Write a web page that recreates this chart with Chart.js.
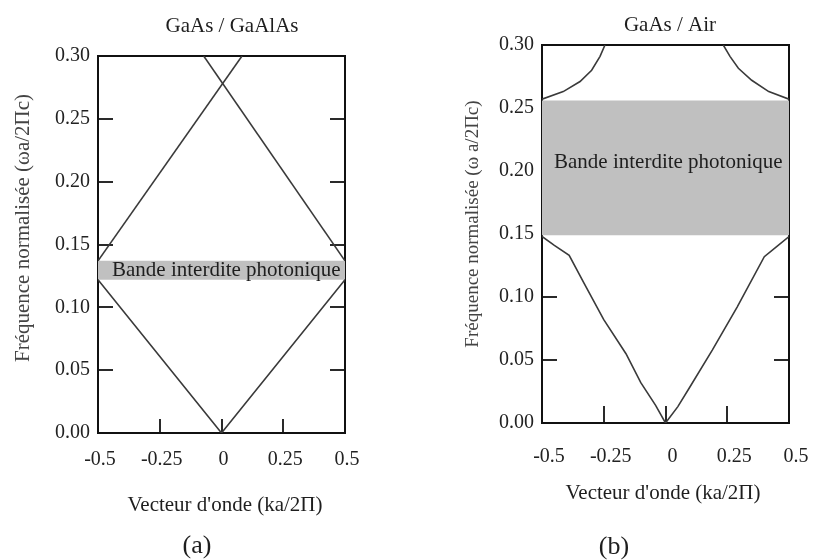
<!DOCTYPE html>
<html lang="fr">
<head>
<meta charset="utf-8">
<title>Diagramme de bandes GaAs</title>
<script src="https://cdn.jsdelivr.net/npm/chart.js@4.4.1/dist/chart.umd.min.js"></script>
<style>
  html, body { margin: 0; padding: 0; background: #fff; }
  #wrap { position: relative; width: 820px; height: 560px; }
  .panel { position: absolute; top: 0; width: 410px; height: 560px; }
  #panelA { left: 0; }
  #panelB { left: 410px; }
</style>
</head>
<body>
<div id="wrap">
  <div class="panel" id="panelA"><canvas id="chartA" width="410" height="560"></canvas></div>
  <div class="panel" id="panelB"><canvas id="chartB" width="410" height="560"></canvas></div>
</div>
<script>
// ---- values ----
const xTickLabels = ['-0.5', '-0.25', '0', '0.25', '0.5'];
const yTickLabels = ['0.00', '0.05', '0.10', '0.15', '0.20', '0.25', '0.30'];

// (a) GaAs / GaAlAs - folded straight bands
const kA_up1 = [-0.5, 0.083];
const fA_up1 = [0.137, 0.30];
const kA_up2 = [-0.072, 0.5];
const fA_up2 = [0.30, 0.137];
const kA_low = [-0.5, 0, 0.5];
const fA_low = [0.122, 0, 0.122];
const gapA = [0.122, 0.137];

// (b) GaAs / Air
const kB_low = [-0.5, -0.45, -0.39, -0.33, -0.25, -0.16, -0.10, -0.04, 0, 0.05, 0.10, 0.19, 0.29, 0.40, 0.45, 0.5];
const fB_low = [0.148, 0.141, 0.133, 0.111, 0.082, 0.055, 0.032, 0.014, 0, 0.013, 0.029, 0.058, 0.092, 0.132, 0.140, 0.148];
const kB_upL = [-0.5, -0.414, -0.346, -0.299, -0.265, -0.245];
const fB_upL = [0.257, 0.263, 0.271, 0.280, 0.291, 0.30];
const kB_upR = [0.234, 0.261, 0.295, 0.349, 0.418, 0.5];
const fB_upR = [0.30, 0.291, 0.2815, 0.272, 0.263, 0.257];
const gapB = [0.149, 0.256];

const SERIF = '"Liberation Serif", "DejaVu Serif", serif';
const LINE = '#3a3a3a';

const pts = (xs, ys) => xs.map((x, i) => ({ x: x, y: ys[i] }));

function curve(xs, ys) {
    return { data: pts(xs, ys), borderColor: LINE, borderWidth: 1.6, pointRadius: 0, fill: false, tension: 0 };
}

function gapBand(gap) {
    return [
        { data: pts([-0.5, 0.5], [gap[0], gap[0]]), borderWidth: 0, pointRadius: 0, fill: false },
        { data: pts([-0.5, 0.5], [gap[1], gap[1]]), borderWidth: 0, pointRadius: 0, fill: '-1', backgroundColor: '#c0c0c0' }
    ];
}

// frame + inward tick marks
const frameTicks = {
    id: 'frameTicks',
    beforeDatasetsDraw(chart, args, o) {
        const { ctx, chartArea: a, scales: { x, y } } = chart;
        ctx.save();
        ctx.strokeStyle = '#2a2a2a';
        ctx.lineWidth = 2;
        ctx.beginPath();
        o.yTicks.forEach(v => {
            const py = Math.round(y.getPixelForValue(v));
            ctx.moveTo(a.left, py); ctx.lineTo(a.left + o.yLen, py);
            ctx.moveTo(a.right, py); ctx.lineTo(a.right - o.yLen, py);
        });
        o.xTicks.forEach(v => {
            const px = Math.round(x.getPixelForValue(v));
            ctx.moveTo(px, a.bottom); ctx.lineTo(px, a.bottom - o.xLen);
        });
        ctx.stroke();
        ctx.strokeStyle = '#111';
        ctx.strokeRect(a.left, a.top, a.right - a.left, a.bottom - a.top);
        ctx.restore();
    }
};

// titles, captions and the gap label
const panelText = {
    id: 'panelText',
    afterDatasetsDraw(chart, args, o) {
        const { ctx, chartArea: a, scales: { y } } = chart;
        ctx.save();
        ctx.fillStyle = '#1e1e1e';
        ctx.textBaseline = 'middle';
        ctx.textAlign = 'left';
        ctx.font = '21px ' + SERIF;
        ctx.fillText('Bande interdite photonique', a.left + o.gapDx, y.getPixelForValue(o.gapLabelY));

        ctx.textAlign = 'center';
        ctx.fillText(o.title, o.titleX, o.titleY);
        ctx.fillText('Vecteur d\'onde (ka/2\u03A0)', o.xTitleX, o.xTitleY);
        ctx.font = '26px ' + SERIF;
        ctx.fillText(o.caption, o.captionX, o.captionY);

        ctx.translate(o.yTitleX, o.yTitleY);
        ctx.rotate(-Math.PI / 2);
        ctx.font = o.yTitleSize + 'px ' + SERIF;
        ctx.fillStyle = '#444';
        ctx.fillText(o.yTitle, 0, 0);
        ctx.restore();
    }
};

function makeChart(canvasId, datasets, lay, text) {
    return new Chart(document.getElementById(canvasId), {
        type: 'line',
        data: { datasets: datasets },
        options: {
            responsive: false,
            animation: false,
            events: [],
            layout: { padding: { left: 0, right: lay.right, top: lay.top, bottom: 0 } },
            plugins: {
                legend: { display: false },
                tooltip: { enabled: false },
                frameTicks: { xTicks: [-0.25, 0, 0.25], yTicks: [0.05, 0.10, 0.15, 0.20, 0.25], xLen: lay.xLen, yLen: 15 },
                panelText: text
            },
            scales: {
                x: {
                    type: 'linear', min: -0.5, max: 0.5,
                    // grid hidden, tickLength only used as spacing before the labels
                    grid: { display: false, drawTicks: true, tickLength: lay.xGap },
                    border: { display: false },
                    afterFit: s => { s.height = lay.xHeight; },
                    ticks: {
                        stepSize: 0.25, padding: 8, labelOffset: lay.labelOffset, color: '#222',
                        font: { family: SERIF, size: 20 },
                        callback: (v, i) => xTickLabels[i]
                    }
                },
                y: {
                    type: 'linear', min: 0, max: 0.3,
                    grid: { display: false, drawTicks: false }, border: { display: false },
                    afterFit: s => { s.width = lay.yWidth; },
                    ticks: {
                        stepSize: 0.05, padding: 8, color: '#222',
                        font: { family: SERIF, size: 20 },
                        callback: (v, i) => yTickLabels[i]
                    }
                }
            }
        },
        plugins: [frameTicks, panelText]
    });
}

makeChart('chartA',
    [curve(kA_up1, fA_up1), curve(kA_up2, fA_up2), curve(kA_low, fA_low)].concat(gapBand(gapA)),
    { right: 65, top: 56, xHeight: 127, yWidth: 98, xGap: 7, xLen: 14, labelOffset: 2 },
    {
        title: 'GaAs / GaAlAs', titleX: 232, titleY: 26,
        xTitleX: 225, xTitleY: 505,
        caption: '(a)', captionX: 197, captionY: 546,
        yTitle: 'Fr\u00e9quence normalis\u00e9e (\u03C9a/2\u03A0c)', yTitleX: 23, yTitleY: 228, yTitleSize: 21,
        gapDx: 14, gapLabelY: (gapA[0] + gapA[1]) / 2
    });

makeChart('chartB',
    [curve(kB_upL, fB_upL), curve(kB_upR, fB_upR), curve(kB_low, fB_low)].concat(gapBand(gapB)),
    { right: 31, top: 45, xHeight: 137, yWidth: 132, xGap: 14, xLen: 17, labelOffset: 7 },
    {
        title: 'GaAs / Air', titleX: 260, titleY: 25,
        xTitleX: 253, xTitleY: 493,
        caption: '(b)', captionX: 204, captionY: 547,
        yTitle: 'Fr\u00e9quence normalis\u00e9e (\u03C9 a/2\u03A0c)', yTitleX: 63, yTitleY: 224, yTitleSize: 19,
        gapDx: 12, gapLabelY: 0.207
    });
</script>
</body>
</html>
